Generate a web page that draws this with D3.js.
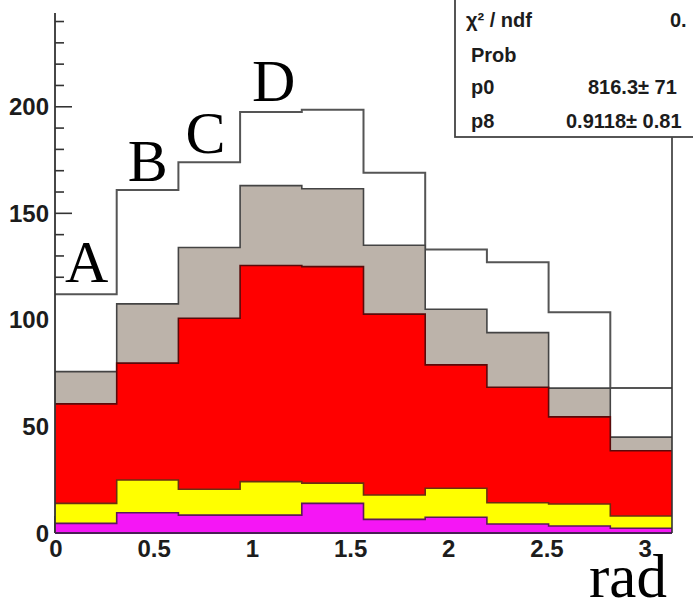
<!DOCTYPE html>
<html>
<head>
<meta charset="utf-8">
<script src="https://cdn.jsdelivr.net/npm/d3@7/dist/d3.min.js"></script>
<style>
  html, body { margin: 0; padding: 0; background: #fff; overflow: hidden; }
  svg { display: block; }
</style>
</head>
<body>
<svg id="chart" width="693" height="604"></svg>
<script>
// Histogram binning over [0, pi] in 10 bins
const nBins = 10;
const xMax = Math.PI;

// Per-bin contributions of each stacked component (bottom to top)
const magenta = [4.5, 9.5, 8.4, 8.4, 13.9, 6.4, 7.4, 4.2, 3.3, 2.2];
const yellow  = [9.4, 15.4, 12.1, 15.7, 9.5, 11.4, 13.6, 10.0, 10.3, 5.8];
const red     = [46.7, 54.8, 80.3, 101.4, 101.6, 84.9, 57.9, 54.2, 40.9, 30.6];
const grey    = [15.1, 27.8, 33.2, 37.5, 36.5, 32.3, 26.1, 25.6, 13.5, 6.4];
const white   = [36.3, 53.5, 40.0, 34.5, 37.1, 34.0, 28.0, 33.0, 35.6, 23.0];

// Axis tick labels
const yTickValues = [0, 50, 100, 150, 200];
const xTickValues = [0, 0.5, 1, 1.5, 2, 2.5, 3];

// Bin annotation letters
const letters = ["A", "B", "C", "D"];

// Fit statistics box rows
const statLabels = ["\u03C7\u00B2 / ndf", "Prob", "p0", "p8"];
const statValues = ["0.", "", "816.3\u00B1 71", "0.9118\u00B1 0.81"];

const svg = d3.select("#chart");

const x = d3.scaleLinear().domain([0, xMax]).range([55, 672]);
const y = d3.scaleLinear().domain([0, 244]).range([533, 13]);

const edges = d3.range(nBins + 1).map(i => i * xMax / nBins);

// Build stacked table
const table = d3.range(nBins).map(i => ({
  bin: i, magenta: magenta[i], yellow: yellow[i], red: red[i], grey: grey[i], white: white[i]
}));
const keys = ["magenta", "yellow", "red", "grey", "white"];
const series = d3.stack().keys(keys)(table);

const fills = { magenta: "#f516f5", yellow: "#ffff00", red: "#ff0000", grey: "#bcb3aa", white: "#ffffff" };
const strokes = { magenta: "#5a1a5a", yellow: "#6a3010", red: "#5a0a0a", grey: "#444", white: "#555" };

// Axis ticks (drawn first so histograms cover them)
const axisG = svg.append("g");
const yMinor = d3.range(0, 241, 10);
axisG.selectAll("line.ymin").data(yMinor).join("line")
  .attr("x1", x(0)).attr("x2", d => x(0) + (d % 50 === 0 ? 17 : 9))
  .attr("y1", d => y(d)).attr("y2", d => y(d))
  .attr("stroke", "#333").attr("stroke-width", 1.6);
const xMinor = d3.range(0, 3.15, 0.1);
axisG.selectAll("line.xmin").data(xMinor).join("line")
  .attr("x1", d => x(d)).attr("x2", d => x(d))
  .attr("y1", y(0)).attr("y2", (d, i) => y(0) - (i % 5 === 0 ? 17 : 9))
  .attr("stroke", "#333").attr("stroke-width", 1.6);

// Step outline of a cumulative histogram
function stepPoints(layer) {
  const pts = [[edges[0], 0]];
  layer.forEach((d, i) => {
    pts.push([edges[i], d[1]]);
    pts.push([edges[i + 1], d[1]]);
  });
  pts.push([edges[nBins], 0]);
  return pts;
}
const line = d3.line().x(d => x(d[0])).y(d => y(d[1]));

// Draw from the largest cumulative down, as a stack is painted
const histG = svg.append("g");
series.slice().reverse().forEach(layer => {
  const pts = stepPoints(layer);
  histG.append("path")
    .attr("d", line(pts) + "Z")
    .attr("fill", fills[layer.key])
    .attr("stroke", "none");
  histG.append("path")
    .attr("d", line(pts.slice(1, -1)))
    .attr("fill", "none")
    .attr("stroke", strokes[layer.key])
    .attr("stroke-width", layer.key === "white" ? 2 : 1.6);
});

// Frame lines
svg.append("line")
  .attr("x1", x(0)).attr("x2", x(0)).attr("y1", y(244)).attr("y2", y(0))
  .attr("stroke", "#333").attr("stroke-width", 1.8);
svg.append("line")
  .attr("x1", x(0)).attr("x2", x(xMax)).attr("y1", y(0)).attr("y2", y(0))
  .attr("stroke", "#4a1f55").attr("stroke-width", 2);
svg.append("line")
  .attr("x1", x(xMax)).attr("x2", x(xMax)).attr("y1", 137).attr("y2", y(0))
  .attr("stroke", "#333").attr("stroke-width", 1.6);

// Tick labels
const labelFont = "'Liberation Sans', Arial, sans-serif";
svg.append("g").selectAll("text").data(yTickValues).join("text")
  .attr("x", 49).attr("y", d => y(d) + 8.5)
  .attr("text-anchor", "end")
  .attr("font-family", labelFont).attr("font-weight", "bold").attr("font-size", 24)
  .attr("fill", "#1c1c1c")
  .text(d => d);
svg.append("g").selectAll("text").data(xTickValues).join("text")
  .attr("x", d => x(d) + 1).attr("y", 557)
  .attr("text-anchor", "middle")
  .attr("font-family", labelFont).attr("font-weight", "bold").attr("font-size", 24)
  .attr("fill", "#1c1c1c")
  .text(d => d);

// Axis title
svg.append("text")
  .attr("x", 589).attr("y", 597)
  .attr("font-family", "'Liberation Serif', 'Times New Roman', serif")
  .attr("font-size", 61).attr("fill", "#000")
  .text("rad");

// Letters over the first four bins, just above each bin's top
const letterFont = "'Liberation Serif', 'Times New Roman', serif";
const letterDx = [10, 11, 7, 12];
const letterDy = [12, 9, 9, 11];
svg.append("g").selectAll("text").data(letters).join("text")
  .attr("x", (d, i) => x(edges[i]) + letterDx[i])
  .attr("y", (d, i) => y(series[4][i][1]) - letterDy[i])
  .attr("font-family", letterFont).attr("font-size", 60).attr("fill", "#000")
  .text(d => d);

// Fit statistics box
const box = svg.append("g");
box.append("rect")
  .attr("x", 455).attr("y", -20).attr("width", 300).attr("height", 157)
  .attr("fill", "#fff").attr("stroke", "#444").attr("stroke-width", 1.8);
const rowY = [27, 62, 94, 128];
box.selectAll("text.lab").data(statLabels).join("text")
  .attr("x", (d, i) => i === 0 ? 466 : 471).attr("y", (d, i) => rowY[i])
  .attr("font-family", labelFont).attr("font-weight", "bold").attr("font-size", 20)
  .attr("fill", "#1c1c1c")
  .text(d => d);
const valX = [670, 0, 588, 566];
box.selectAll("text.val").data(statValues).join("text")
  .attr("x", (d, i) => valX[i]).attr("y", (d, i) => rowY[i])
  .attr("font-family", labelFont).attr("font-weight", "bold").attr("font-size", 20)
  .attr("fill", "#1c1c1c")
  .text(d => d);
</script>
</body>
</html>
